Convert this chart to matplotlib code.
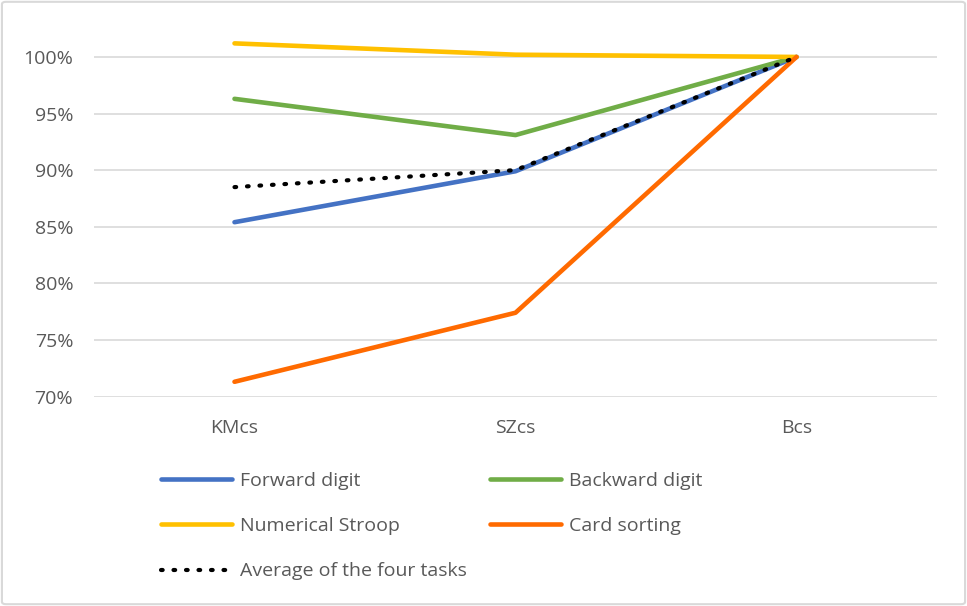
import matplotlib
matplotlib.use("Agg")
import matplotlib.pyplot as plt
from matplotlib.patches import FancyBboxPatch
from matplotlib.ticker import PercentFormatter

plt.rcParams['font.family'] = ['Open Sans', 'DejaVu Sans']

conditions = ['KMcs', 'SZcs', 'Bcs']

forward_digit = [0.854, 0.899, 1.000]
backward_digit = [0.963, 0.931, 1.000]
numerical_stroop = [1.012, 1.002, 1.000]
card_sorting = [0.713, 0.774, 1.000]
average_four = [0.885, 0.900, 1.000]

yticks = [0.70, 0.75, 0.80, 0.85, 0.90, 0.95, 1.00]

fig = plt.figure(figsize=(9.67, 6.06), dpi=100)
ax = fig.add_axes([94 / 967, 1 - 396.5 / 606, (937 - 94) / 967, (396.5 - 23) / 606])

x = range(len(conditions))
lw = 3.3
l1, = ax.plot(x, forward_digit, color='#4472C4', lw=lw, solid_capstyle='round', label='Forward digit')
l2, = ax.plot(x, backward_digit, color='#70AD47', lw=lw, solid_capstyle='round', label='Backward digit')
l3, = ax.plot(x, numerical_stroop, color='#FFC000', lw=lw, solid_capstyle='round', label='Numerical Stroop')
l4, = ax.plot(x, card_sorting, color='#FF6A00', lw=lw, solid_capstyle='round', label='Card sorting')
l5, = ax.plot(x, average_four, color='black', lw=3, linestyle=(0, (0.4, 2.6)),
              dash_capstyle='round', label='Average of the four tasks')

ax.set_xlim(-0.5, 2.5)
ax.set_ylim(0.70, 1.03)
ax.set_yticks(yticks)
ax.yaxis.set_major_formatter(PercentFormatter(1.0, decimals=0))
ax.set_xticks(list(x))
ax.set_xticklabels(conditions)
ax.grid(axis='y', color='#D9D9D9', lw=1.2)
ax.set_axisbelow(True)
for s in ax.spines.values():
    s.set_visible(False)
ax.tick_params(length=0, labelsize=14, colors='#595959')
ax.tick_params(axis='y', pad=15)
ax.tick_params(axis='x', pad=16)

# legend laid out row by row: two columns
fig.legend([l1, l3, l5, l2, l4],
           [l.get_label() for l in (l1, l3, l5, l2, l4)],
           ncol=2, loc='upper left', bbox_to_anchor=(161 / 967, 1 - 472 / 606),
           frameon=False, fontsize=14, labelcolor='#595959',
           handlelength=3.66, handletextpad=0.4, labelspacing=1.4,
           columnspacing=1.2, borderpad=0, borderaxespad=0)

# thin outer frame around the chart
fig.patches.append(FancyBboxPatch((0.002, 0.003), 0.996, 0.994,
                                  boxstyle='round,pad=0,rounding_size=0.004',
                                  transform=fig.transFigure, fill=False,
                                  edgecolor='#D9D9D9', lw=1.5))

fig.savefig('out.png', dpi=100)
